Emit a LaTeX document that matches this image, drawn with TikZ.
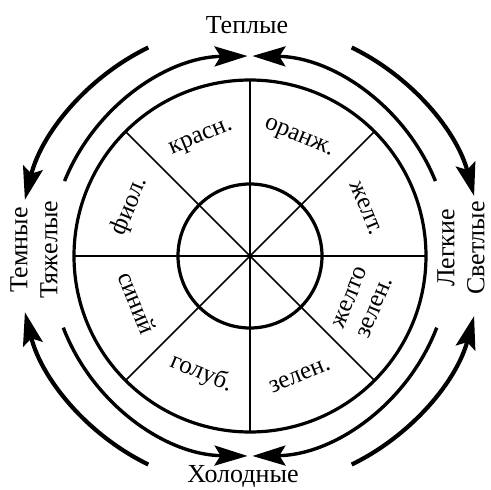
\documentclass[tikz,border=0pt]{standalone}
\usepackage{fontspec}
\setmainfont{Liberation Serif}
\usepackage{tikz}
\usetikzlibrary{arrows.meta}

\begin{document}
\begin{tikzpicture}[
    x=1pt, y=1pt,
    wheelLine/.style={line width=3.2pt},
    spokeLine/.style={line width=1.6pt},
    midArc/.style={line width=3.4pt, -{Stealth[length=33pt, width=20pt, inset=6pt]}},
    outArc/.style={line width=4.2pt, -{Stealth[length=33pt, width=20pt, inset=6pt]}},
    sideText/.style={font=\fontsize{26}{30}\selectfont, inner sep=0pt},
    sectorText/.style={font=\fontsize{25}{27}\selectfont, inner sep=0pt, align=center}
]
    \useasboundingbox (-250,-234) rectangle (241,256);

    % wheel
    \coordinate (hub) at (0,0);
    \draw[wheelLine] (hub) circle[radius=176];
    \draw[wheelLine] (hub) circle[radius=72];
    \draw[spokeLine] (0:176) -- (180:176);
    \draw[spokeLine] (90:176) -- (270:176);
    \draw[spokeLine] (45:176) -- (225:176);
    \draw[spokeLine] (135:176) -- (315:176);

    % sector names
    \node[sectorText, rotate=22.5] (red) at (112.5:127) {красн.};
    \node[sectorText, rotate=-22.5] (orange) at (67.5:127) {оранж.};
    \node[sectorText, rotate=-67.5] (yellow) at (22.5:125) {желт.};
    \node[sectorText, rotate=67.5] (ygreen) at (-22.5:122) {желто\\зелен.};
    \node[sectorText, rotate=22.5] (green) at (-67.5:130) {зелен.};
    \node[sectorText, rotate=-22.5] (cyan) at (-112.5:127) {голуб.};
    \node[sectorText, rotate=-67.5] (blue) at (-157.5:122) {синий};
    \node[sectorText, rotate=67.5] (violet) at (157.5:130) {фиол.};

    % outer names
    \node[sideText] (warm) at (-3,231) {Теплые};
    \node[sideText] (cold) at (-7,-221) {Холодные};
    \node[sideText, rotate=90, align=center] (dark) at (-216,6) {Темные\\Тяжелые};
    \node[sideText, rotate=90, align=center] (light) at (211,8) {Легкие\\Светлые};

    % warm / cold arcs
    \coordinate (warmR) at (22:200);
    \coordinate (warmL) at (158:200);
    \coordinate (coldL) at (201:200);
    \coordinate (coldR) at (339:200);
    \draw[midArc] (warmR) arc[start angle=22, end angle=89.3, radius=200];
    \draw[midArc] (warmL) arc[start angle=158, end angle=90.7, radius=200];
    \draw[midArc] (coldL) arc[start angle=201, end angle=269.3, radius=200];
    \draw[midArc] (coldR) arc[start angle=339, end angle=270.7, radius=200];

    % dark / light arcs
    \coordinate (darkT) at (116:232);
    \coordinate (darkB) at (244:232);
    \coordinate (lightT) at (64:232);
    \coordinate (lightB) at (296:232);
    \draw[outArc] (darkT) arc[start angle=116, end angle=166, radius=232];
    \draw[outArc] (darkB) arc[start angle=244, end angle=194, radius=232];
    \draw[outArc] (lightT) arc[start angle=64, end angle=15, radius=232];
    \draw[outArc] (lightB) arc[start angle=296, end angle=345, radius=232];
\end{tikzpicture}
\end{document}
